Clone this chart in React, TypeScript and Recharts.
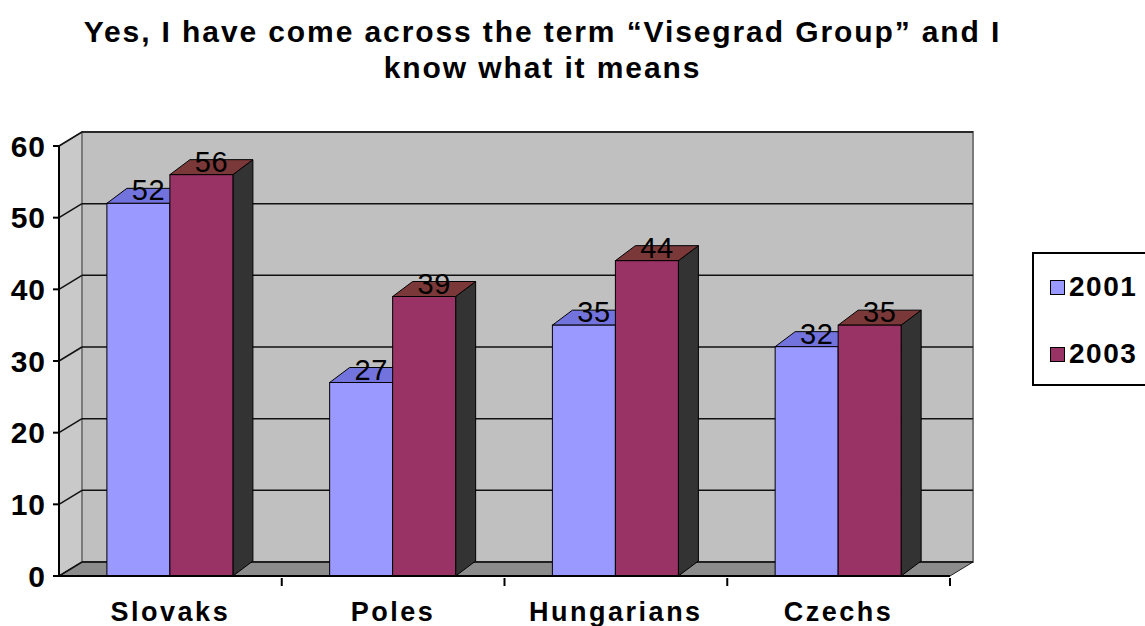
import React from 'react';
import { BarChart, Bar, XAxis, YAxis, CartesianGrid, ReferenceArea, Legend, LabelList } from 'recharts';

const categories = ['Slovaks', 'Poles', 'Hungarians', 'Czechs'];
const values2001 = [52, 27, 35, 32];
const values2003 = [56, 39, 44, 35];
const yTicks = [0, 10, 20, 30, 40, 50, 60];
const seriesNames = ['2001', '2003'];
const titleLines = ['Yes, I have come across the term \u201cVisegrad Group\u201d and I', 'know what it means'];

const data = categories.map((c, i) => ({ name: c, y2001: values2001[i], y2003: values2003[i] }));

const FONT = '"Liberation Sans", Arial, sans-serif';
const WDX = 23;
const WDY = -14;
const BDX = 20;
const BDY = -15;

const COLORS = {
  s1: { front: '#9999ff', top: '#7373de', side: '#4d4d99' },
  s2: { front: '#993366', top: '#7a3838', side: '#333333' },
};

const WallShape = (props: any) => {
  const { x, y, width: w, height: h } = props;
  return (
    <g>
      <polygon
        points={`${x},${y} ${x + WDX},${y + WDY} ${x + WDX},${y + h + WDY} ${x},${y + h}`}
        fill="#c9c9c9"
        stroke="#777"
        strokeWidth={1}
      />
      <rect x={x + WDX} y={y + WDY} width={w} height={h} fill="#c0c0c0" stroke="#7a7a7a" strokeWidth={2} />
      <polygon
        points={`${x},${y + h} ${x + WDX},${y + h + WDY} ${x + w + WDX},${y + h + WDY} ${x + w},${y + h}`}
        fill="#8c8c8c"
        stroke="#222"
        strokeWidth={1}
      />
    </g>
  );
};

const GridLine = (props: any) => {
  const { x1, y1, x2 } = props;
  return (
    <g key={props.key}>
      <line x1={x1} y1={y1} x2={x1 + WDX} y2={y1 + WDY} stroke="#111" strokeWidth={1.5} />
      <line x1={x1 + WDX} y1={y1 + WDY} x2={x2 + WDX} y2={y1 + WDY} stroke="#111" strokeWidth={1.5} />
    </g>
  );
};

const make3DBar = (c: { front: string; top: string; side: string }) => (props: any) => {
  const { x, y, width: w, height: h } = props;
  if (w == null || h == null) return null;
  return (
    <g>
      <polygon
        points={`${x + w},${y} ${x + w + BDX},${y + BDY} ${x + w + BDX},${y + h + BDY} ${x + w},${y + h}`}
        fill={c.side}
        stroke="#000"
        strokeWidth={1}
      />
      <polygon
        points={`${x},${y} ${x + BDX},${y + BDY} ${x + w + BDX},${y + BDY} ${x + w},${y}`}
        fill={c.top}
        stroke="#000"
        strokeWidth={1}
      />
      <rect x={x} y={y} width={w} height={h} fill={c.front} stroke="#000" strokeWidth={1} />
    </g>
  );
};

const ValueLabel = (props: any) => {
  const { x, y, width, value } = props;
  return (
    <text
      x={x + width / 2 + BDX / 2}
      y={y - 3}
      textAnchor="middle"
      fontFamily={FONT}
      fontSize={29}
      letterSpacing={0.5}
      fill="#000"
    >
      {value}
    </text>
  );
};

const XTick = (props: any) => {
  const { x, y, payload, width } = props;
  const band = width / categories.length;
  return (
    <g>
      <line x1={x + band / 2} y1={y} x2={x + band / 2} y2={y + 8} stroke="#000" strokeWidth={2} />
      <text x={x} y={y + 43} textAnchor="middle" fontFamily={FONT} fontWeight="bold" fontSize={27} letterSpacing={2.5} fill="#000">
        {payload.value}
      </text>
    </g>
  );
};

const LegendBox = () => (
  <div
    style={{
      position: 'absolute',
      left: 1032,
      top: 252,
      width: 113,
      height: 134,
      borderTop: '2px solid #000',
      borderLeft: '2px solid #000',
      borderBottom: '2px solid #000',
      background: '#fff',
      boxSizing: 'border-box',
      fontFamily: FONT,
      fontWeight: 'bold',
      fontSize: 28,
      letterSpacing: 1.5,
    }}
  >
    {seriesNames.map((n, i) => (
      <div key={n} style={{ position: 'absolute', left: 16, top: 17 + i * 67, display: 'flex', alignItems: 'center', whiteSpace: 'nowrap' }}>
        <span
          style={{
            display: 'inline-block',
            width: 13,
            height: 13,
            background: i === 0 ? COLORS.s1.front : COLORS.s2.front,
            border: '1.5px solid #000',
            marginRight: 4,
          }}
        />
        <span style={{ lineHeight: '32px' }}>{n}</span>
      </div>
    ))}
  </div>
);

export default function App() {
  return (
    <div style={{ position: 'absolute', left: 0, top: 0, width: 1145, height: 626, background: '#fff', overflow: 'hidden' }}>
      <div
        style={{
          position: 'absolute',
          left: 0,
          top: 14,
          width: 1085,
          textAlign: 'center',
          fontFamily: FONT,
          fontWeight: 'bold',
          fontSize: 30,
          lineHeight: '36px',
          letterSpacing: 1.9,
          color: '#000',
        }}
      >
        {titleLines.map((t) => (
          <div key={t}>{t}</div>
        ))}
      </div>
      <BarChart
        width={1145}
        height={626}
        data={data}
        margin={{ top: 146, right: 195, bottom: 0, left: 0 }}
        barCategoryGap="21.5%"
        barGap={0}
        style={{ position: 'absolute', left: 0, top: 0 }}
      >
        <ReferenceArea y1={0} y2={60} shape={WallShape} zIndex={-300} ifOverflow="visible" />
        <CartesianGrid vertical={false} horizontal={GridLine} zIndex={-200} />
        <XAxis
          dataKey="name"
          height={50}
          axisLine={{ stroke: '#000', strokeWidth: 2 }}
          tickLine={false}
          tickSize={0}
          tick={XTick}
          interval={0}
        />
        <YAxis
          width={59}
          domain={[0, 60]}
          ticks={yTicks}
          interval={0}
          axisLine={{ stroke: '#000', strokeWidth: 2 }}
          tickLine={{ stroke: '#000', strokeWidth: 2 }}
          tickSize={6}
          tickMargin={7}
          tick={{ fontFamily: FONT, fontWeight: 'bold', fontSize: 30, letterSpacing: 1, fill: '#000' }}
        />
        <Legend
          layout="horizontal"
          verticalAlign="middle"
          align="center"
          content={() => <LegendBox />}
          wrapperStyle={{ position: 'absolute', left: 0, top: 0, width: 0, height: 0 }}
        />
        <Bar dataKey="y2001" name="2001" isAnimationActive={false} shape={make3DBar(COLORS.s1)}>
          <LabelList dataKey="y2001" content={ValueLabel} />
        </Bar>
        <Bar dataKey="y2003" name="2003" isAnimationActive={false} shape={make3DBar(COLORS.s2)}>
          <LabelList dataKey="y2003" content={ValueLabel} />
        </Bar>
      </BarChart>
    </div>
  );
}
